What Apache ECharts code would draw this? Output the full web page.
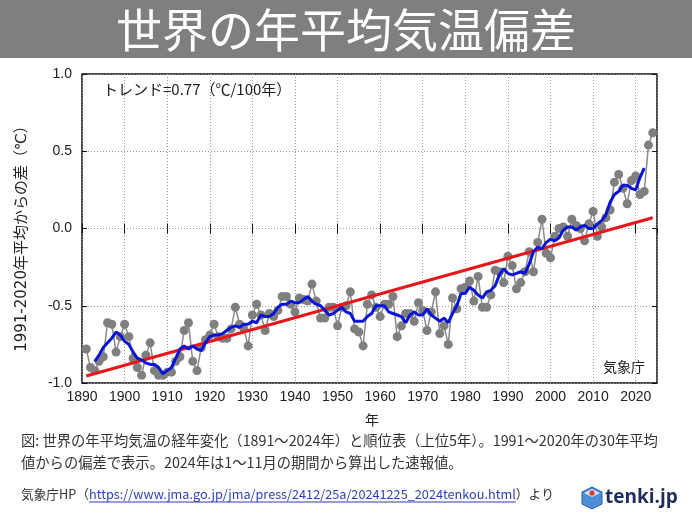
<!DOCTYPE html>
<html><head><meta charset="utf-8">
<script src="https://cdn.jsdelivr.net/npm/echarts@6/dist/echarts.min.js"></script>
<style>html,body{margin:0;padding:0;background:#fff}#c{width:692px;height:519px}</style>
</head><body><div id="c"></div>
<script>
// ---- data ----
var firstYear = 1891;
var annualAnomaly = [
-0.78,-0.90,-0.92,-0.86,-0.83,-0.61,-0.62,-0.80,-0.70,-0.62,
-0.70,-0.84,-0.90,-0.95,-0.82,-0.74,-0.92,-0.95,-0.95,-0.93,
-0.93,-0.86,-0.83,-0.66,-0.61,-0.86,-0.92,-0.77,-0.72,-0.69,
-0.62,-0.70,-0.71,-0.71,-0.65,-0.51,-0.62,-0.65,-0.76,-0.56,
-0.49,-0.56,-0.66,-0.55,-0.57,-0.53,-0.44,-0.44,-0.49,-0.54,
-0.45,-0.46,-0.47,-0.36,-0.47,-0.58,-0.58,-0.51,-0.51,-0.63,
-0.51,-0.50,-0.41,-0.65,-0.67,-0.76,-0.49,-0.43,-0.51,-0.57,
-0.49,-0.49,-0.44,-0.70,-0.63,-0.55,-0.55,-0.60,-0.48,-0.53,
-0.66,-0.54,-0.41,-0.68,-0.63,-0.75,-0.45,-0.52,-0.39,-0.38,
-0.34,-0.47,-0.31,-0.51,-0.51,-0.43,-0.27,-0.28,-0.35,-0.18,
-0.24,-0.39,-0.35,-0.28,-0.15,-0.28,-0.09,0.06,-0.16,-0.19,
-0.05,0.00,0.01,-0.05,0.06,0.02,0.00,-0.08,0.03,0.11,
-0.05,0.01,0.07,0.12,0.30,0.35,0.26,0.16,0.31,0.34,
0.22,0.24,0.54,0.62
];
var meanFirstYear = 1893;
var fiveYearMean = [
-0.86,-0.82,-0.77,-0.74,-0.71,-0.67,-0.69,-0.73,-0.75,-0.80,
-0.84,-0.85,-0.87,-0.88,-0.88,-0.90,-0.94,-0.92,-0.90,-0.84,
-0.78,-0.76,-0.78,-0.76,-0.78,-0.79,-0.74,-0.70,-0.69,-0.69,
-0.68,-0.66,-0.64,-0.63,-0.64,-0.62,-0.62,-0.60,-0.61,-0.56,
-0.57,-0.57,-0.55,-0.51,-0.49,-0.49,-0.47,-0.48,-0.48,-0.46,
-0.44,-0.47,-0.49,-0.50,-0.53,-0.56,-0.55,-0.53,-0.51,-0.54,
-0.55,-0.60,-0.60,-0.60,-0.57,-0.55,-0.50,-0.50,-0.50,-0.54,
-0.55,-0.56,-0.57,-0.61,-0.56,-0.54,-0.56,-0.56,-0.52,-0.56,
-0.58,-0.60,-0.58,-0.61,-0.55,-0.50,-0.42,-0.42,-0.38,-0.40,
-0.43,-0.45,-0.41,-0.40,-0.37,-0.30,-0.26,-0.29,-0.30,-0.29,
-0.28,-0.29,-0.23,-0.15,-0.12,-0.13,-0.09,-0.07,-0.08,-0.06,
-0.01,0.01,0.01,-0.01,0.01,0.02,0.00,0.00,0.03,0.05,
0.09,0.17,0.22,0.24,0.28,0.28,0.26,0.25,0.33,0.39
];
var trendYears = [1891, 2024];
var trendValues = [-0.955, 0.07];
var xTicks = {min: 1890, max: 2025, interval: 10};
var yTicks = {min: -1, max: 1, interval: 0.5};

var titleText = '世界の年平均気温偏差';
var trendLabel = 'トレンド=0.77（℃/100年）';
var yName = '1991-2020年平均からの差（℃）';
var xName = '年';
var sourceMark = '気象庁';
var caption1 = '図: 世界の年平均気温の経年変化（1891～2024年）と順位表（上位5年）。1991～2020年の30年平均';
var caption2 = '値からの偏差で表示。2024年は1～11月の期間から算出した速報値。';
var srcPrefix = '気象庁HP（';
var srcUrl = 'https://www.jma.go.jp/jma/press/2412/25a/20241225_2024tenkou.html';
var srcSuffix = '）より';

// ---- build ----
var dots = annualAnomaly.map(function (v, i) { return [firstYear + i, v]; });
var means = fiveYearMean.map(function (v, i) { return [meanFirstYear + i, v]; });
var trend = trendYears.map(function (y, i) { return [y, trendValues[i]]; });

var JP = '"Noto Sans CJK JP", "Noto Sans", sans-serif';
var LAT = '"Liberation Sans", Arial, sans-serif';
var MIX = '"DejaVu Sans", "Noto Sans CJK JP", sans-serif';

var mc = document.createElement('canvas').getContext('2d');
function tw(t, font) { mc.font = font; return mc.measureText(t).width; }
var capFont = '12.7px ' + JP;
var x0 = 21;
var wPre = tw(srcPrefix, capFont), wUrl = tw(srcUrl, capFont);

var chart = echarts.init(document.getElementById('c'), null, {renderer: 'canvas'});
var axisLab = {fontSize: 14, color: '#222', fontFamily: LAT};
chart.setOption({
  animation: false,
  backgroundColor: '#fff',
  grid: {left: 82, top: 74, width: 575, height: 309, show: true, borderColor: '#111', borderWidth: 1.5, backgroundColor: 'transparent'},
  xAxis: [{
    type: 'value', min: xTicks.min, max: xTicks.max, interval: xTicks.interval,
    axisLine: {show: false},
    axisTick: {show: true, inside: true, length: 5, lineStyle: {color: '#111'}},
    axisLabel: Object.assign({margin: 7, showMaxLabel: false, formatter: function (v) { return String(v); }}, axisLab),
    splitLine: {show: true, lineStyle: {type: [1, 2], color: '#999', width: 1}}
  }, {
    type: 'value', position: 'top', min: xTicks.min, max: xTicks.max, interval: xTicks.interval,
    axisLine: {show: false}, axisLabel: {show: false}, splitLine: {show: false},
    axisTick: {show: true, inside: true, length: 5, lineStyle: {color: '#111'}}
  }],
  yAxis: [{
    type: 'value', min: yTicks.min, max: yTicks.max, interval: yTicks.interval,
    axisLine: {show: false},
    axisTick: {show: true, inside: true, length: 5, lineStyle: {color: '#111'}},
    axisLabel: Object.assign({margin: 10, formatter: function (v) { return v.toFixed(1); }}, axisLab),
    splitLine: {show: true, lineStyle: {type: [1, 2], color: '#999', width: 1}}
  }, {
    type: 'value', position: 'right', min: yTicks.min, max: yTicks.max, interval: yTicks.interval,
    axisLine: {show: false}, axisLabel: {show: false}, splitLine: {show: false},
    axisTick: {show: true, inside: true, length: 5, lineStyle: {color: '#111'}}
  }],
  series: [{
    type: 'line', data: dots, symbol: 'circle', symbolSize: 9, showAllSymbol: true,
    itemStyle: {color: '#7f7f7f'}, lineStyle: {color: '#8a8a8a', width: 1.5}, z: 2, silent: true
  }, {
    type: 'line', data: trend, symbol: 'none', lineStyle: {color: '#e8161b', width: 3}, z: 3, silent: true
  }, {
    type: 'line', data: means, symbol: 'none', lineStyle: {color: '#0a14d6', width: 3}, z: 4, silent: true
  }],
  graphic: [
    {type: 'rect', left: 0, top: 0, shape: {width: 692, height: 58}, style: {fill: '#7f7f7f'}, z: -1},
    {type: 'text', x: 346, y: 30, style: {text: titleText, fill: '#fff', font: '46px ' + JP, textAlign: 'center', textVerticalAlign: 'middle'}},
    {type: 'text', x: 103, y: 89, style: {text: trendLabel, fill: '#222', font: '15px ' + JP, textAlign: 'left', textVerticalAlign: 'middle'}},
    {type: 'text', x: 645, y: 367, style: {text: sourceMark, fill: '#222', font: '14px ' + JP, textAlign: 'right', textVerticalAlign: 'middle'}},
    {type: 'text', x: 22, y: 235, rotation: Math.PI / 2, style: {text: yName, fill: '#222', font: '15px ' + MIX, textAlign: 'center', textVerticalAlign: 'middle'}},
    {type: 'text', x: 372, y: 420, style: {text: xName, fill: '#222', font: '14px ' + JP, textAlign: 'center', textVerticalAlign: 'middle'}},
    {type: 'text', x: x0, y: 441, style: {text: caption1, fill: '#333', font: '14.3px ' + JP, textAlign: 'left', textVerticalAlign: 'middle'}},
    {type: 'text', x: x0, y: 463, style: {text: caption2, fill: '#333', font: '14.3px ' + JP, textAlign: 'left', textVerticalAlign: 'middle'}},
    {type: 'text', x: x0, y: 494, style: {text: srcPrefix, fill: '#333', font: capFont, textAlign: 'left', textVerticalAlign: 'middle'}},
    {type: 'text', x: x0 + wPre, y: 494, style: {text: srcUrl, fill: '#2a3fc0', font: capFont, textAlign: 'left', textVerticalAlign: 'middle'}},
    {type: 'line', shape: {x1: x0 + wPre, y1: 502, x2: x0 + wPre + wUrl, y2: 502}, style: {stroke: '#2a3fc0', lineWidth: 1}},
    {type: 'text', x: x0 + wPre + wUrl, y: 494, style: {text: srcSuffix, fill: '#333', font: capFont, textAlign: 'left', textVerticalAlign: 'middle'}},
    // tenki.jp logo
    {type: 'polygon', shape: {points: [[592, 487], [602, 492], [602, 504], [592, 509], [582, 504], [582, 492]]}, style: {fill: '#4d8fd6', stroke: '#2b5ea8', lineWidth: 1}},
    {type: 'polygon', shape: {points: [[592, 489], [600, 493], [592, 497], [584, 493]]}, style: {fill: '#cfe3f7'}},
    {type: 'circle', shape: {cx: 592, cy: 493, r: 2.6}, style: {fill: '#e0322b'}},
    {type: 'text', x: 605, y: 498, style: {text: 'tenki.jp', fill: '#1f2d5c', font: 'bold 19px "Open Sans", "DejaVu Sans", sans-serif', textAlign: 'left', textVerticalAlign: 'middle'}}
  ]
});
</script></body></html>
